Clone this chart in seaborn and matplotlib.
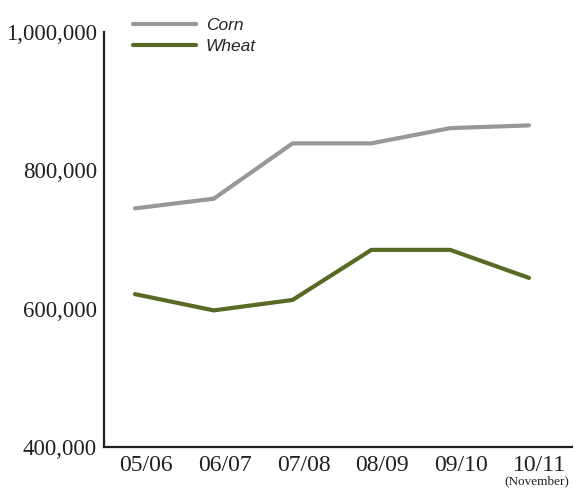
import matplotlib
matplotlib.use("Agg")
import matplotlib.pyplot as plt
import matplotlib.transforms as mtransforms
import seaborn as sns
import pandas as pd

# Marketing years and production (thousand tonnes)
seasons = ["05/06", "06/07", "07/08", "08/09", "09/10", "10/11"]
corn = [745000, 759000, 839000, 839000, 861000, 865000]
wheat = [621000, 597500, 612600, 685000, 685000, 644500]
y_ticks = [400000, 600000, 800000, 1000000]

df = pd.DataFrame({
    "x": list(range(len(seasons))) * 2,
    "value": corn + wheat,
    "crop": ["Corn"] * len(corn) + ["Wheat"] * len(wheat),
})

sns.set_theme(style="white")
plt.rcParams["font.family"] = ["Liberation Serif", "DejaVu Serif"]

fig = plt.figure(figsize=(5.74, 4.88), dpi=100)
ax = fig.add_axes([104 / 574, 1 - 447 / 488, (572 - 104) / 574, (447 - 32) / 488])

palette = {"Corn": "#97989b", "Wheat": "#586a23"}
sns.lineplot(data=df, x="x", y="value", hue="crop", palette=palette,
             linewidth=3.0, ax=ax, legend=True)

ax.set_ylim(400000, 1000000)
ax.set_xlim(-0.393, 5.546)
ax.set_yticks(y_ticks)
ax.set_yticklabels([f"{v:,}" for v in y_ticks])
ax.set_xticks(range(len(seasons)))
ax.set_xticklabels(seasons)
ax.set_xlabel("")
ax.set_ylabel("")

ax.tick_params(axis="both", length=0, colors="#231f20")
ax.tick_params(axis="y", labelsize=16.5, pad=5)
ax.tick_params(axis="x", labelsize=17, pad=6)

# Category labels sit slightly right of their points
shift = mtransforms.ScaledTranslation(0.11, 0, fig.dpi_scale_trans)
for lbl in ax.get_xticklabels():
    lbl.set_transform(lbl.get_transform() + shift)

for side in ["top", "right"]:
    ax.spines[side].set_visible(False)
for side in ["left", "bottom"]:
    ax.spines[side].set_color("#231f20")
    ax.spines[side].set_linewidth(1.6)

ax.annotate("(November)", xy=(5, 0), xycoords=ax.get_xaxis_transform(),
            xytext=(6, -25), textcoords="offset points",
            ha="center", va="center", fontsize=9.5, color="#231f20")

leg = ax.legend(loc="upper left", bbox_to_anchor=(133 / 574, 1 - 18 / 488),
                bbox_transform=fig.transFigure, frameon=False,
                prop={"family": "Liberation Sans", "style": "italic", "size": 12.5},
                handlelength=3.6, handletextpad=0.6, labelspacing=0.35,
                borderpad=0, borderaxespad=0)
for line in leg.get_lines():
    line.set_linewidth(3.0)

fig.savefig("out.png", dpi=100, facecolor="white")
